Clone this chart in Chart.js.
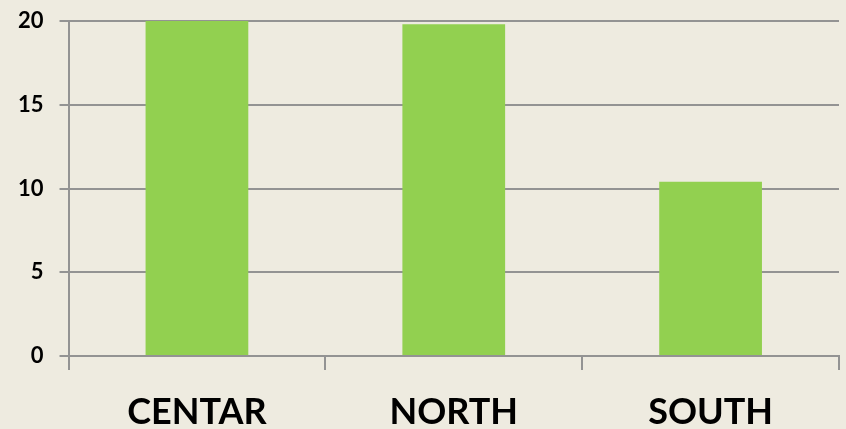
<!DOCTYPE html>
<html>
<head>
<meta charset="utf-8">
<script src="https://cdn.jsdelivr.net/npm/chart.js@4"></script>
<style>
html,body{margin:0;padding:0;background:#EEEBE0;}
#wrap{width:846px;height:429px;}
</style>
</head>
<body>
<div id="wrap"><canvas id="c" width="846" height="429"></canvas></div>
<script>
const categories = ["CENTAR", "NORTH", "SOUTH"];
const values = [20, 19.8, 10.4];
const yTicks = [0, 5, 10, 15, 20];

const bgPlugin = {
  id: 'bg',
  beforeDraw(chart) {
    const ctx = chart.ctx;
    ctx.save();
    ctx.fillStyle = '#EEEBE0';
    ctx.fillRect(0, 0, chart.width, chart.height);
    ctx.restore();
  }
};

new Chart(document.getElementById('c'), {
  type: 'bar',
  data: {
    labels: categories,
    datasets: [{
      data: values,
      backgroundColor: '#92D050',
      borderWidth: 0,
      barPercentage: 0.4,
      categoryPercentage: 1.0
    }]
  },
  options: {
    responsive: false,
    animation: false,
    devicePixelRatio: 1,
    layout: { padding: { top: 21, right: 7, left: 2, bottom: 0 } },
    plugins: { legend: { display: false }, tooltip: { enabled: false } },
    scales: {
      y: {
        min: 0, max: 20,
        afterBuildTicks(axis) { axis.ticks = yTicks.map(v => ({ value: v })); },
        afterFit(scale) { scale.paddingTop = 0; scale.paddingBottom = 0; },
        grid: { color: '#939393', lineWidth: 2, tickLength: 9, drawTicks: true },
        border: { display: true, color: '#939393', width: 2 },
        ticks: { color: '#000', padding: 16, font: { family: 'Lato', weight: 'bold', size: 22 } }
      },
      x: {
        afterFit(scale) { scale.height = 73; },
        grid: { display: true, offset: true, drawOnChartArea: false, color: '#939393', lineWidth: 2, tickLength: 14 },
        border: { display: true, color: '#939393', width: 2 },
        ticks: { color: '#000', padding: 24, font: { family: 'Lato', weight: 'bold', size: 36, lineHeight: 1 } }
      }
    }
  },
  plugins: [bgPlugin]
});
</script>
</body>
</html>
